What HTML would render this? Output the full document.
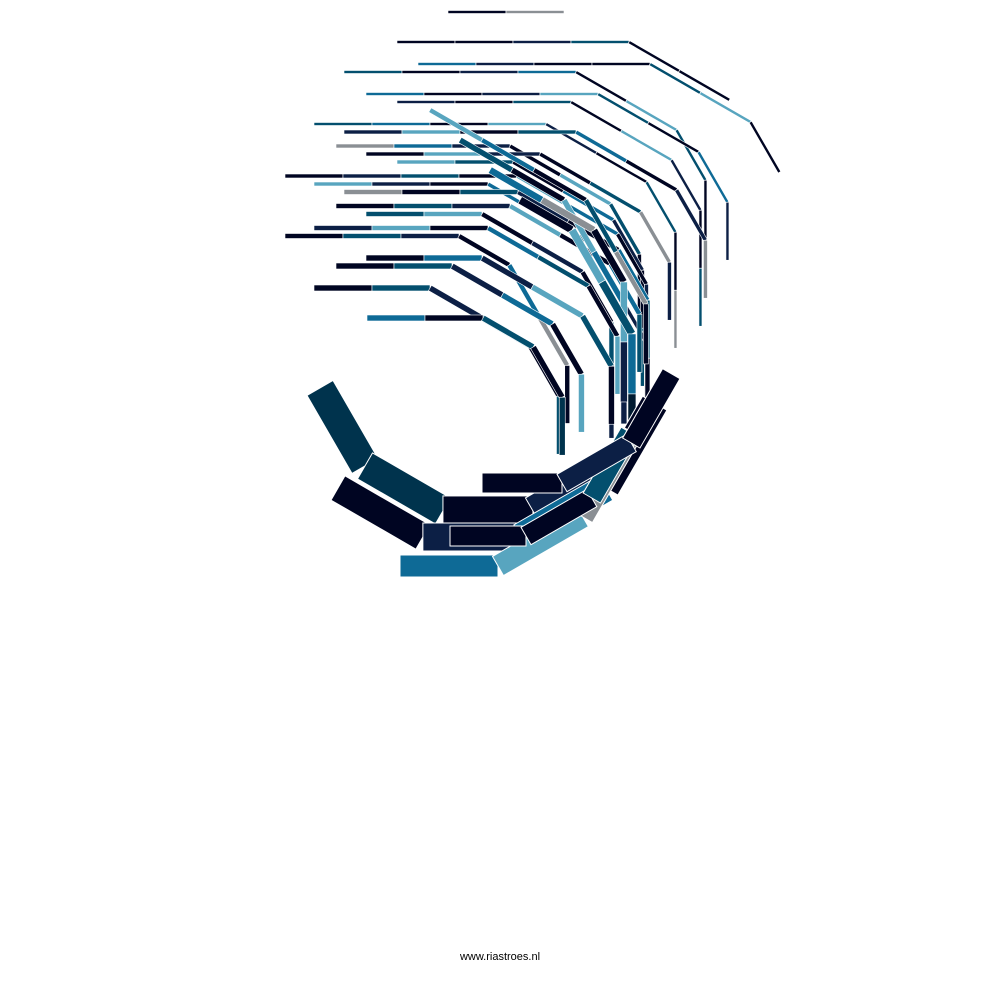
<!DOCTYPE html>
<html><head><meta charset="utf-8"><style>
html,body{margin:0;padding:0;background:#fff;width:1000px;height:1000px;overflow:hidden}
svg{display:block}
</style></head><body>
<svg id="art" width="1000" height="1000" viewBox="0 0 1000 1000">
<g id="marks"></g>
<text x="500" y="960" text-anchor="middle" font-family="Liberation Sans, sans-serif" font-size="11" fill="#000">www.riastroes.nl</text>
</svg>
<script>
const strandX = [448,397,418,344,366,397,314,344,336,366,397,285,314,344,336,366,314,285,366,336,314,367,430,460,490,520];
const strandY = [12,42,64,72,94,102,124,132,146,154,162,176,184,192,206,214,228,236,258,266,288,318,110,140,170,200];
const strandW = [3,3,3,3,3,3,3,4,4,4,4,4,4,5,5,5,5,5,6,6,6,6,5,6,7,8];
const strandLen = [58,58,58,58,58,58,58,58,58,58,58,58,58,58,58,58,58,58,58,58,58,58,60,60,60,60];
const strandAngles = [
 "0 0",
 "0 0 0 0 30 30",
 "0 0 0 0 30 30 60",
 "0 0 0 0 30 30 60 90",
 "0 0 0 0 30 30 60 90",
 "0 0 0 30 30 60 90 90",
 "0 0 0 0 30 30 60 90 90",
 "0 0 0 0 30 30 60 90",
 "0 0 0 30 30 60 90 90",
 "0 0 0 30 30 60 90",
 "0 0 30 30 60 90 90",
 "0 0 0 0 30 30 60 90 90",
 "0 0 0 30 30 60 60 90",
 "0 0 0 30 30 60 90 90",
 "0 0 0 30 30 60 90",
 "0 0 30 30 60 90 90",
 "0 0 0 30 30 60 90",
 "0 0 0 30 60 60 90",
 "0 0 30 30 60 90",
 "0 0 30 30 60 90",
 "0 0 30 30 60 90",
 "0 0 30 60 90",
 "30 30 30 60 60 90",
 "30 30 60 60 90 90",
 "30 30 60 90 90",
 "30 60 60 90 90"
];
const palette = ["#000522","#0c1f45","#034f6e","#0e6a96","#58a5bf","#8a8f94","#00334d","#001a30"];
const strandColors = [
 "0 5","0 0 1 2 0 0","3 1 0 0 2 4 0","2 0 1 3 0 4 2 0","3 0 1 4 2 0 3 1","1 0 2 0 4 1 0 2","2 3 0 4 1 0 2 0 5","1 4 0 2 3 0 1 5",
 "5 3 1 0 4 2 0 3","0 4 1 0 2 5 1","4 2 0 3 1 0 2","0 1 2 0 4 3 0 1 0","4 1 0 3 2 0 1 5","5 0 2 1 0 3 2 0","0 2 1 4 0 3 2","2 4 0 1 0 2 1",
 "1 4 0 3 2 0 4","0 2 1 0 3 5 0","0 3 1 4 2 0","0 2 1 3 0 4","0 2 1 3 0 2","3 0 2 0 6","4 3 0 2 5 0","2 0 4 3 5 1","3 5 0 4 1 2","0 4 2 3 7"
];
const thickX = [320,338,400,450,482];
const thickY = [388,488,566,536,483];
const thickW = [30,28,22,20,20];
const thickLen = [90,98,98,76,80];
const thickAngles = ["60 30 0 -30","30 0 -30 -60","0 -30 -60","0 -30 -60","0 -30 -60"];
const thickColors = ["6 6 0 1","0 1 3 0","3 4 5","0 0 2","0 1 0"];

const g = document.getElementById('marks');
const NS = 'http://www.w3.org/2000/svg';
function drawStrand(x,y,w,L,angles,cols,name){
  const a = angles.split(' ').map(Number);
  const c = cols.split(' ').map(Number);
  let px=x, py=y;
  a.forEach((deg,i)=>{
    const r = deg*Math.PI/180;
    const r2 = document.createElementNS(NS,'rect');
    r2.setAttribute('x',0); r2.setAttribute('y',-w/2);
    r2.setAttribute('width',L); r2.setAttribute('height',w);
    r2.setAttribute('fill',palette[c[i % c.length]]);
    r2.setAttribute('stroke','#fff'); r2.setAttribute('stroke-width',w>8?1:0.6);
    r2.setAttribute('transform','translate('+px+','+py+') rotate('+deg+')');
    
    
    g.appendChild(r2);
    px += L*Math.cos(r); py += L*Math.sin(r);
  });
}
for(let i=0;i<strandX.length;i++) drawStrand(strandX[i],strandY[i],strandW[i],strandLen[i],strandAngles[i],strandColors[i],'thin-strand');
for(let i=0;i<thickX.length;i++) drawStrand(thickX[i],thickY[i],thickW[i],thickLen[i],thickAngles[i],thickColors[i],'thick-strand');
</script>
</body></html>
